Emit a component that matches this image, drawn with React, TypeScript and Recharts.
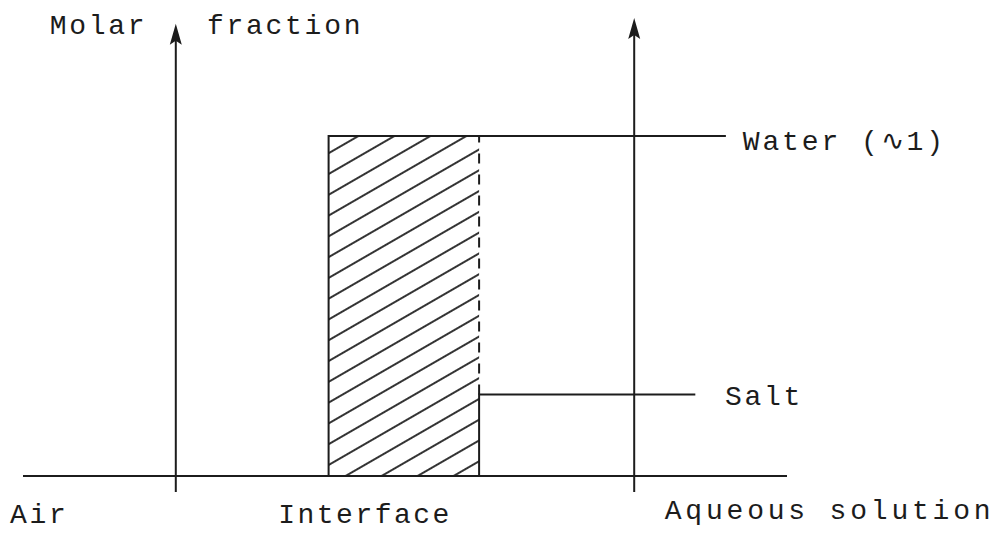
import React from "react";
import {
  ComposedChart,
  Line,
  XAxis,
  YAxis,
  ReferenceLine,
  ReferenceArea,
  ReferenceDot,
} from "recharts";

// schematic coordinates: x is position across the interface (0..100), y is molar fraction
const xDomain = [0, 100];
const yDomain = [-0.05, 1.35];

const axisPositions = [20, 80]; // air side axis, solution side axis
const axisTops = [1.33, 1.347];
const axisBottom = -0.047;

const interfaceBand = [40, 59.7];
const waterLevel = 1;
const waterEnd = 92;
const saltLevel = 0.24;
const saltEnd = 88;

const waterProfile = [
  { x: interfaceBand[0], y: 0 },
  { x: interfaceBand[0], y: waterLevel },
  { x: waterEnd, y: waterLevel },
];
const saltProfile = [
  { x: interfaceBand[1], y: 0 },
  { x: interfaceBand[1], y: saltLevel },
  { x: saltEnd, y: saltLevel },
];
const interfaceEdge = [
  { x: interfaceBand[1], y: saltLevel },
  { x: interfaceBand[1], y: waterLevel },
];

const labels = [
  { text: "Molar", x: 3.5, y: 1.3, spacing: 2.7 },
  { text: "fraction", x: 24.1, y: 1.3, spacing: 2.7 },
  { text: "Water (∿1)", x: 94.2, y: 0.959, spacing: 2.9 },
  { text: "Salt", x: 91.9, y: 0.209, spacing: 2.7 },
  { text: "Air", x: -1.7, y: -0.138, spacing: 2.7 },
  { text: "Interface", x: 33.4, y: -0.138, spacing: 2.5 },
  { text: "Aqueous solution", x: 84.0, y: -0.126, spacing: 3.8 },
];

const INK = "#1c1c1c";

const ArrowAxis = (props: any) => {
  const { x1, y1, x2, y2 } = props;
  // vertical axis with a filled head at the upper end
  const top = Math.min(y1, y2);
  const bottom = Math.max(y1, y2);
  const x = x1;
  return (
    <g>
      <line x1={x} y1={bottom} x2={x} y2={top + 10} stroke={INK} strokeWidth={2} />
      <path
        d={`M${x},${top} L${x + 6},${top + 21} L${x},${top + 17} L${x - 6},${top + 21} Z`}
        fill={INK}
      />
    </g>
  );
};

export default function App() {
  return (
    <div style={{ position: "absolute", left: 0, top: 0, background: "#fff" }}>
      <ComposedChart
        width={997}
        height={537}
        margin={{ top: 17, right: 210, bottom: 44, left: 23 }}
      >
        <defs>
          <pattern
            id="hatch"
            patternUnits="userSpaceOnUse"
            width={12}
            height={18}
            patternTransform="rotate(-30)"
          >
            <line x1={0} y1={9} x2={12} y2={9} stroke={INK} strokeWidth={1.8} />
          </pattern>
        </defs>
        <XAxis type="number" dataKey="x" domain={xDomain} allowDataOverflow hide />
        <YAxis type="number" dataKey="y" domain={yDomain} allowDataOverflow hide />

        <ReferenceArea
          x1={interfaceBand[0]}
          x2={interfaceBand[1]}
          y1={0}
          y2={waterLevel}
          fill="url(#hatch)"
          fillOpacity={1}
          stroke="none"
        />

        <ReferenceLine y={0} stroke={INK} strokeWidth={2} />

        {axisPositions.map((ax, i) => (
          <ReferenceLine
            key={`axis-${i}`}
            segment={[
              { x: ax, y: axisBottom },
              { x: ax, y: axisTops[i] },
            ]}
            ifOverflow="visible"
            shape={ArrowAxis}
          />
        ))}

        <Line
          data={waterProfile}
          dataKey="y"
          type="linear"
          stroke={INK}
          strokeWidth={2}
          dot={false}
          isAnimationActive={false}
        />
        <Line
          data={saltProfile}
          dataKey="y"
          type="linear"
          stroke={INK}
          strokeWidth={2}
          dot={false}
          isAnimationActive={false}
        />
        <Line
          data={interfaceEdge}
          dataKey="y"
          type="linear"
          stroke={INK}
          strokeWidth={2}
          strokeDasharray="10 11"
          dot={false}
          isAnimationActive={false}
        />

        {labels.map((l) => (
          <ReferenceDot
            key={l.text}
            x={l.x}
            y={l.y}
            r={0}
            ifOverflow="visible"
            shape={(p: any) => (
              <text
                x={p.cx}
                y={p.cy}
                fill={INK}
                fontFamily="'Liberation Mono', monospace"
                fontSize={28}
                letterSpacing={l.spacing}
              >
                {l.text}
              </text>
            )}
          />
        ))}
      </ComposedChart>
    </div>
  );
}
